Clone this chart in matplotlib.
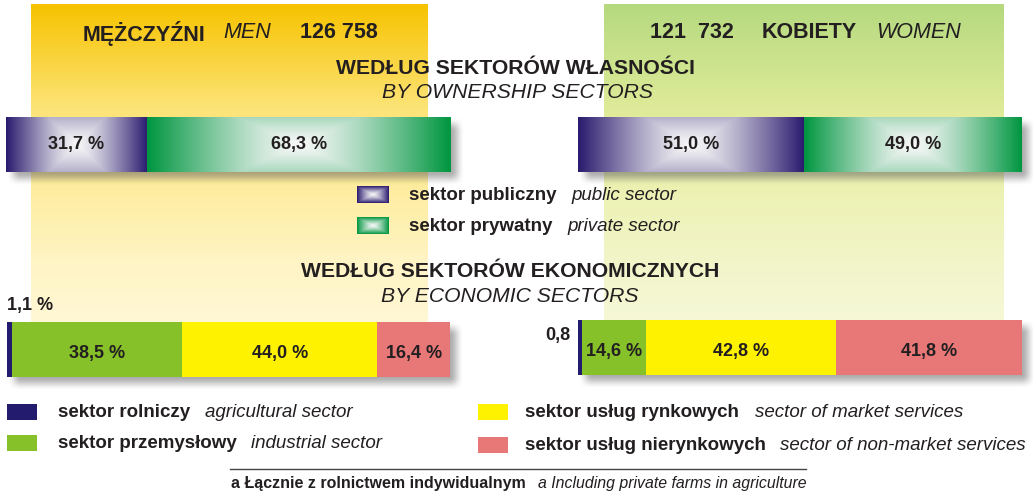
import numpy as np
import matplotlib
matplotlib.use("Agg")
import matplotlib.pyplot as plt
from matplotlib.colors import to_rgb

plt.rcParams['font.family'] = ['Liberation Sans', 'DejaVu Sans']

W, H = 1033, 494
TXT = '#231F20'

# --- data ---
men_total = '126 758'
women_total = '121  732'
own_labels = ['sektor publiczny', 'sektor prywatny']
own_labels_en = ['public sector', 'private sector']
own_men = [31.7, 68.3]
own_women = [51.0, 49.0]
own_colors = ['#2A1A6E', '#009640']

eco_labels = ['sektor rolniczy', 'sektor przemysłowy', 'sektor usług rynkowych', 'sektor usług nierynkowych']
eco_labels_en = ['agricultural sector', 'industrial sector', 'sector of market services',
                 'sector of non-market services']
eco_men = [1.1, 38.5, 44.0, 16.4]
eco_women = [0.8, 14.6, 42.8, 41.8]
eco_colors = ['#221B6E', '#86C12A', '#FFF200', '#E87878']


def fmt(v):
    return f'{v:.1f}'.replace('.', ',')


fig = plt.figure(figsize=(W / 100, H / 100), dpi=100)
bg = fig.add_axes([0, 0, 1, 1])
bg.set_axis_off()


def vgrad(x0, x1, y0, y1, stops):
    ys = np.arange(y0, y1)
    cols = np.array([to_rgb(c) for _, c in stops])
    pos = [p for p, _ in stops]
    img = np.stack([np.interp(ys, pos, cols[:, i]) for i in range(3)], axis=-1)
    img = np.repeat(img[:, None, :], 4, axis=1)
    bg.imshow(img, extent=(x0, x1, y1, y0), origin='upper', aspect='auto',
              interpolation='bilinear', zorder=0)


def shadow(x0, y0, x1, y1, off=7, blur=7):
    xs = np.arange(x0 - 10, x1 + 25)
    ys = np.arange(y0 - 10, y1 + 25)
    X, Y = np.meshgrid(xs, ys)
    sx = np.clip(np.minimum(X - (x0 + off - blur), (x1 + off + blur) - X) / (2 * blur), 0, 1)
    sy = np.clip(np.minimum(Y - (y0 + off - blur), (y1 + off + blur) - Y) / (2 * blur), 0, 1)
    a = (sx * sx * (3 - 2 * sx)) * (sy * sy * (3 - 2 * sy)) * 0.5
    img = np.zeros(X.shape + (4,))
    img[..., :3] = 0.35
    img[..., 3] = a
    bg.imshow(img, extent=(xs[0], xs[-1], ys[-1], ys[0]), origin='upper', aspect='auto',
              interpolation='bilinear', zorder=1)


def grad_rgba(dark, k):
    u = np.linspace(-1, 1, 200)
    v = np.linspace(-1, 1, 60)
    U, V = np.meshgrid(u, v)
    t = np.maximum(np.abs(U), k * np.abs(V)) ** 1.25
    d = np.array(to_rgb(dark))
    return (1 - t)[..., None] * np.array([1.0, 1.0, 1.0]) * 0.97 + t[..., None] * d


# panels
vgrad(31, 428, 5, 345, [(5, '#F6C200'), (40, '#F9CE28'), (110, '#FCE479'), (190, '#FEEDA0'),
                        (260, '#FFF4C4'), (345, '#FFF9DC')])
vgrad(604, 1004, 5, 345, [(5, '#B5D97F'), (60, '#CBE38C'), (120, '#E3EC9C'), (200, '#EDF2B6'),
                          (260, '#F2F5C8'), (345, '#F7F9DD')])

bars = [(6, 117, 451, 172), (578, 117, 1022, 172), (7, 322, 450, 377), (578, 320, 1022, 375)]
for b in bars:
    shadow(*b)


def bar_axes(box):
    x0, y0, x1, y1 = box
    ax = fig.add_axes([x0 / W, 1 - y1 / H, (x1 - x0) / W, (y1 - y0) / H])
    ax.set_xlim(0, 100)
    ax.set_ylim(-0.5, 0.5)
    ax.set_axis_off()
    return ax


# ownership bars with gradients
for box, vals in [(bars[0], own_men), (bars[1], own_women)]:
    ax = bar_axes(box)
    left = np.concatenate([[0], np.cumsum(vals)[:-1]])
    rects = ax.barh(0, vals, left=left, height=1.0, color='none', edgecolor='none')
    for r, c, l, v in zip(rects, own_colors, left, vals):
        im = ax.imshow(grad_rgba(c, 0.4), extent=(l, l + v, -0.5, 0.5), aspect='auto',
                       interpolation='bilinear')
        im.set_clip_path(r)
        ax.text(l + v / 2, 0.0, fmt(v) + ' %', ha='center', va='center', fontsize=13,
                fontweight='bold', color=TXT)
    ax.set_xlim(0, 100)
    ax.set_ylim(-0.5, 0.5)

# economic bars
for box, vals in [(bars[2], eco_men), (bars[3], eco_women)]:
    ax = bar_axes(box)
    left = np.concatenate([[0], np.cumsum(vals)[:-1]])
    ax.barh(0, vals, left=left, height=1.0, color=eco_colors, edgecolor='none')
    for l, v in zip(left[1:], vals[1:]):
        ax.text(l + v / 2, -0.08, fmt(v) + ' %', ha='center', va='center', fontsize=13,
                fontweight='bold', color=TXT)

bg.text(7, 305, fmt(eco_men[0]) + ' %', ha='left', va='center', fontsize=13,
        fontweight='bold', color=TXT)
bg.text(545, 335, fmt(eco_women[0]), ha='left', va='center', fontsize=13,
        fontweight='bold', color=TXT)

# headers
bg.text(83, 33, 'MĘŻCZYŹNI', ha='left', va='center', fontsize=15.5, fontweight='bold', color=TXT)
bg.text(223, 33, 'MEN', ha='left', va='center', fontsize=15.5, style='italic', color=TXT)
bg.text(300, 33, men_total, ha='left', va='center', fontsize=15.5, fontweight='bold', color=TXT)
bg.text(650, 33, women_total, ha='left', va='center', fontsize=15.5, fontweight='bold', color=TXT)
bg.text(762, 33, 'KOBIETY', ha='left', va='center', fontsize=15.5, fontweight='bold', color=TXT)
bg.text(876, 33, 'WOMEN', ha='left', va='center', fontsize=15.5, style='italic', color=TXT)

bg.text(516, 68, 'WEDŁUG SEKTORÓW WŁASNOŚCI', ha='center', va='center', fontsize=15.2,
        fontweight='bold', color=TXT)
bg.text(517, 92, 'BY OWNERSHIP SECTORS', ha='center', va='center', fontsize=15.2,
        style='italic', color=TXT)
bg.text(510, 271, 'WEDŁUG SEKTORÓW EKONOMICZNYCH', ha='center', va='center', fontsize=15.2,
        fontweight='bold', color=TXT)
bg.text(510, 296, 'BY ECONOMIC SECTORS', ha='center', va='center', fontsize=15.2,
        style='italic', color=TXT)

# ownership legend
for i, (lab, lab_en, c) in enumerate(zip(own_labels, own_labels_en, own_colors)):
    y = 195 + 31 * i
    bg.imshow(grad_rgba(c, 1.0), extent=(357, 389, y + 8.5, y - 8.5), origin='upper',
              aspect='auto', interpolation='bilinear', zorder=2)
    bg.text(409, y, lab, ha='left', va='center', fontsize=13.5, fontweight='bold', color=TXT)
    bg.text(571 - 4 * i, y, lab_en, ha='left', va='center', fontsize=13.5, style='italic',
            color=TXT)

# economic legend
leg_pos = [(7, 412, 58, 205), (7, 443, 58, 251), (478, 412, 525, 755), (478, 445, 525, 780)]
for (sx, y, tx, ex), lab, lab_en, c in zip(leg_pos, eco_labels, eco_labels_en, eco_colors):
    bg.add_patch(plt.Rectangle((sx, y - 8), 30, 16, facecolor=c, edgecolor='none', zorder=2))
    bg.text(tx, y, lab, ha='left', va='center', fontsize=13.5, fontweight='bold', color=TXT)
    bg.text(ex, y, lab_en, ha='left', va='center', fontsize=13.5, style='italic', color=TXT)

# footnote
bg.plot([230, 806], [469, 469], color='#444444', lw=1)
bg.text(231, 483, 'a Łącznie z rolnictwem indywidualnym', ha='left', va='center',
        fontsize=11.5, fontweight='bold', color=TXT)
bg.text(538, 483, 'a Including private farms in agriculture', ha='left', va='center',
        fontsize=11.4, style='italic', color=TXT)

bg.set_xlim(0, W)
bg.set_ylim(H, 0)

fig.savefig('out.png', dpi=100)
